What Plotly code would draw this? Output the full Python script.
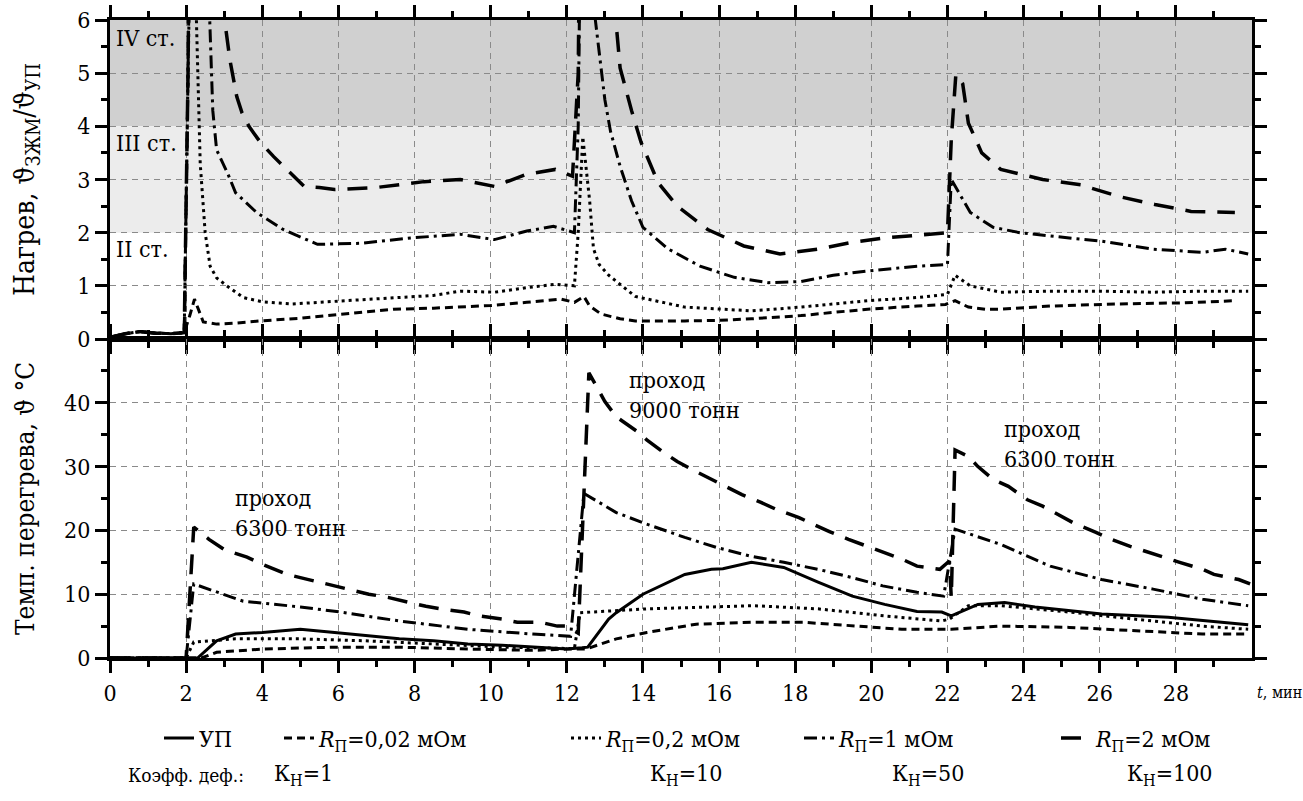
import plotly.graph_objects as go
from plotly.subplots import make_subplots

FONT = "DejaVu Serif Condensed, DejaVu Serif"
FS_TICK = 23
FS_TEXT = 23

# ---------------- top panel: heating ratio ----------------
t_r002 = [0, 0.4, 0.8, 1.2, 1.6, 1.95, 2.1, 2.22, 2.45, 2.8, 3.3, 3.95, 5.0, 5.7, 6.5, 7.45, 8.5, 9.2, 10.0, 10.95, 11.85, 12.2, 12.45, 12.6, 12.9, 13.4, 13.8, 15.1, 16.0, 16.85, 18.15, 19.0, 19.9, 21.2, 21.95, 22.2, 22.55, 23.0, 23.4, 24.7, 26.5, 28.2, 29.55]
v_r002 = [0.03, 0.10, 0.14, 0.11, 0.10, 0.12, 0.45, 0.75, 0.32, 0.28, 0.30, 0.34, 0.39, 0.44, 0.50, 0.56, 0.58, 0.60, 0.63, 0.69, 0.75, 0.69, 0.80, 0.62, 0.47, 0.38, 0.34, 0.34, 0.35, 0.38, 0.44, 0.50, 0.56, 0.62, 0.65, 0.72, 0.60, 0.56, 0.56, 0.62, 0.66, 0.68, 0.72]

t_r02 = [0, 0.4, 0.8, 1.2, 1.6, 1.95, 2.05, 2.15, 2.27, 2.37, 2.5, 2.63, 2.8, 3.07, 3.5, 4.0, 4.8, 6.1, 7.45, 8.5, 9.2, 10.1, 11.0, 11.7, 12.2, 12.3, 12.42, 12.6, 12.7, 12.85, 13.1, 13.8, 15.1, 16.85, 18.15, 19.9, 21.2, 22.0, 22.2, 22.6, 23.4, 24.7, 26.05, 27.4, 28.7, 29.9]
v_r02 = [0.03, 0.10, 0.14, 0.11, 0.10, 0.12, 5.0, 9.0, 6.0, 3.3, 2.0, 1.37, 1.15, 1.0, 0.78, 0.70, 0.66, 0.72, 0.78, 0.82, 0.90, 0.88, 0.97, 1.03, 1.0, 2.0, 3.8, 2.6, 1.7, 1.4, 1.2, 0.8, 0.6, 0.53, 0.6, 0.72, 0.78, 0.84, 1.2, 1.0, 0.88, 0.9, 0.9, 0.88, 0.9, 0.9]

t_r1 = [0, 0.4, 0.8, 1.2, 1.6, 1.95, 2.05, 2.2, 2.62, 2.7, 2.8, 3.1, 3.3, 3.85, 4.55, 5.45, 6.6, 7.9, 9.2, 10.1, 10.95, 11.65, 12.2, 12.3, 12.45, 12.75, 13.0, 13.15, 13.4, 13.7, 14.0, 14.65, 15.5, 16.4, 17.3, 18.15, 19.0, 19.9, 21.2, 22.0, 22.1, 22.6, 23.2, 23.9, 25.2, 26.05, 27.4, 28.7, 29.3, 29.9]
v_r1 = [0.03, 0.10, 0.14, 0.11, 0.10, 0.12, 5.0, 14.0, 6.0, 4.3, 3.56, 3.1, 2.75, 2.38, 2.06, 1.78, 1.8, 1.9, 1.97, 1.87, 2.03, 2.12, 2.0, 4.0, 14.0, 6.0, 4.5, 3.9, 3.25, 2.6, 2.1, 1.7, 1.37, 1.16, 1.06, 1.08, 1.2, 1.28, 1.37, 1.4, 3.0, 2.38, 2.1, 2.0, 1.9, 1.84, 1.69, 1.63, 1.69, 1.6]

t_r2 = [0, 0.4, 0.8, 1.2, 1.6, 1.95, 2.05, 2.2, 3.03, 3.15, 3.33, 3.47, 3.65, 3.95, 4.3, 4.65, 5.1, 5.5, 5.9, 7.0, 8.25, 9.2, 10.1, 10.95, 11.7, 12.15, 12.3, 12.5, 13.3, 13.4, 13.7, 13.95, 14.4, 14.9, 15.7, 16.65, 17.6, 18.6, 19.5, 20.35, 21.5, 22.0, 22.1, 22.22, 22.4, 22.55, 22.9, 23.4, 24.5, 25.5, 26.5, 27.45, 28.4, 29.55]
v_r2 = [0.03, 0.10, 0.14, 0.11, 0.10, 0.12, 5.0, 20.0, 5.9, 5.25, 4.56, 4.25, 4.0, 3.7, 3.43, 3.19, 2.87, 2.85, 2.81, 2.85, 2.96, 3.0, 2.87, 3.1, 3.19, 3.06, 5.0, 20.0, 5.9, 5.1, 4.3, 3.7, 2.94, 2.5, 2.06, 1.75, 1.6, 1.69, 1.82, 1.9, 1.97, 2.0, 3.75, 4.97, 4.8, 4.06, 3.5, 3.19, 3.0, 2.9, 2.68, 2.53, 2.4, 2.38]

# ---------------- bottom panel: overheat temperature ----------------
t_up = [0, 2.3, 2.8, 3.3, 4.0, 5.0, 5.9, 6.75, 7.6, 8.5, 9.4, 10.3, 11.1, 12.0, 12.4, 12.55, 13.1, 13.3, 14.0, 15.1, 15.8, 16.1, 16.85, 17.7, 18.6, 19.5, 20.35, 21.2, 21.85, 22.1, 22.8, 23.5, 24.3, 26.05, 27.8, 29.6, 29.9]
v_up = [0, 0, 2.7, 3.75, 4.0, 4.5, 4.0, 3.5, 3.0, 2.7, 2.2, 2.0, 1.7, 1.4, 1.6, 1.7, 6.1, 7.1, 10.0, 13.1, 13.9, 14.0, 15.0, 14.2, 11.9, 9.7, 8.4, 7.3, 7.2, 6.6, 8.4, 8.7, 8.0, 6.9, 6.4, 5.3, 5.2]

t_002 = [0, 2.4, 2.8, 4.0, 5.9, 7.6, 9.4, 11.1, 12.0, 12.5, 13.3, 14.1, 15.4, 16.85, 18.2, 19.5, 20.8, 22.1, 23.4, 25.2, 26.9, 28.7, 29.9]
v_002 = [0, 0, 0.9, 1.4, 1.7, 1.7, 1.4, 1.2, 1.4, 1.4, 3.0, 4.0, 5.3, 5.6, 5.6, 5.0, 4.5, 4.5, 5.0, 4.8, 4.3, 3.75, 3.75]

t_02 = [0, 2.0, 2.2, 3.3, 5.0, 6.7, 8.5, 10.3, 12.0, 12.2, 12.35, 14.1, 16.9, 18.6, 20.35, 21.85, 22.05, 22.55, 23.4, 25.2, 26.9, 28.7, 29.9]
v_02 = [0, 0, 2.5, 3.0, 3.0, 2.7, 2.2, 1.7, 1.5, 1.5, 7.1, 7.7, 8.2, 7.7, 6.6, 5.8, 6.1, 8.2, 8.2, 7.2, 6.1, 5.0, 4.5]

t_1 = [0, 2.0, 2.2, 2.8, 3.5, 5.0, 6.05, 7.6, 9.4, 11.1, 12.1, 12.45, 13.3, 14.0, 15.1, 15.95, 16.8, 17.7, 18.6, 19.5, 20.3, 21.2, 21.9, 22.2, 23.4, 24.7, 26.05, 27.4, 28.7, 29.9]
v_1 = [0, 0, 11.6, 10.3, 8.9, 8.0, 7.2, 5.8, 4.5, 3.75, 3.4, 25.8, 22.8, 21.2, 18.9, 17.3, 16.0, 15.0, 13.9, 12.6, 11.3, 10.3, 9.7, 20.2, 17.8, 14.4, 12.3, 10.8, 9.2, 8.2]

t_2 = [0, 2.0, 2.2, 2.6, 3.0, 3.6, 4.0, 4.65, 5.0, 5.5, 5.9, 6.4, 6.8, 7.3, 7.7, 8.3, 8.8, 9.3, 9.7, 10.3, 10.7, 11.3, 11.75, 12.0, 12.3, 12.58, 13.0, 13.3, 13.9, 14.1, 14.55, 14.9, 15.4, 15.7, 16.2, 16.6, 17.1, 17.5, 18.1, 18.5, 18.9, 19.4, 19.9, 20.3, 20.8, 21.2, 21.8, 22.05, 22.1, 22.2, 22.55, 22.8, 23.2, 23.6, 24.1, 24.5, 25.0, 25.3, 25.9, 26.3, 26.8, 27.2, 27.7, 28.1, 28.7, 29.0, 29.65, 29.95]
v_2 = [0, 0, 20.5, 18.6, 17.0, 15.8, 14.7, 13.1, 12.6, 11.9, 11.3, 10.5, 10.0, 9.5, 8.9, 8.1, 7.6, 7.2, 6.6, 6.1, 5.6, 5.6, 5.0, 5.0, 3.9, 44.7, 40.2, 37.8, 35.3, 34.2, 32.2, 30.8, 29.2, 28.3, 26.7, 25.6, 24.4, 23.3, 22.0, 20.9, 19.8, 18.6, 17.5, 16.5, 15.5, 14.4, 13.9, 15.2, 9.5, 32.6, 31.6, 30.0, 28.0, 26.9, 24.8, 23.8, 22.2, 21.2, 19.7, 18.6, 17.5, 16.7, 15.8, 15.0, 13.9, 13.1, 12.3, 11.6]

# ---------------- names / labels ----------------
series_names = ["УП", "<i>R</i><sub>П</sub>=0,02 мОм", "<i>R</i><sub>П</sub>=0,2 мОм",
                "<i>R</i><sub>П</sub>=1 мОм", "<i>R</i><sub>П</sub>=2 мОм"]
coef_title = "Коэфф. деф.:"
coef_labels = ["К<sub>Н</sub>=1", "К<sub>Н</sub>=10", "К<sub>Н</sub>=50", "К<sub>Н</sub>=100"]
zone_labels = ["IV ст.", "III ст.", "II ст."]
zone_label_y = [5.66, 3.68, 1.69]
pass_labels = ["проход<br>6300 тонн", "проход<br>9000 тонн", "проход<br>6300 тонн"]
pass_x = [3.24, 13.58, 23.42]
pass_y = [22.7, 41.3, 33.5]
x_ticks = list(range(0, 30, 2))

dashes = ["solid", "8px,5px", "3px,4px", "13px,5px,3px,5px", "20px,12px"]
widths = [3, 3, 3, 3, 3.5]

# layout geometry (body margin removed by post_script, so figure == screen)
W, H = 1303, 801
PLOT_L, PLOT_R, PLOT_T, PLOT_B = 110, 1252, 20, 658
PL, PT, PR, PB = PLOT_L, PLOT_T, W - PLOT_R, H - PLOT_B
PW = PLOT_R - PLOT_L
PH = PLOT_B - PLOT_T
legend_text_px = [200, 320, 607, 840, 1097]
coef_px = [272, 648, 890, 1125]
def px2x(px):
    return (px - PLOT_L) / PW
def py2y(py):
    return (PLOT_B - py) / PH

fig = make_subplots(rows=2, cols=1, shared_xaxes=True, vertical_spacing=0)

top_series = [(t_r002, v_r002), (t_r02, v_r02), (t_r1, v_r1), (t_r2, v_r2)]
for i, (tx, vy) in enumerate(top_series):
    fig.add_trace(go.Scatter(x=tx, y=vy, mode="lines", showlegend=False,
                             line=dict(color="black", width=widths[i + 1], dash=dashes[i + 1])),
                  row=1, col=1)

legend_ids = ["legend", "legend2", "legend3", "legend4", "legend5"]
bot_series = [(t_up, v_up), (t_002, v_002), (t_02, v_02), (t_1, v_1), (t_2, v_2)]
for i, (tx, vy) in enumerate(bot_series):
    fig.add_trace(go.Scatter(x=tx, y=vy, mode="lines", name=series_names[i],
                             legend=legend_ids[i],
                             line=dict(color="black", width=widths[i], dash=dashes[i])),
                  row=2, col=1)

tickfont = dict(family=FONT, size=FS_TICK, color="black")
axis_common = dict(showline=True, linewidth=3, linecolor="black", mirror="allticks",
                   ticks="outside", ticklen=12, tickwidth=3, tickcolor="black",
                   showgrid=True, gridcolor="#8a8a8a", gridwidth=1.3, griddash="6px,5px",
                   zeroline=False, automargin=False, ticklabeloverflow="allow",
                   tickfont=tickfont)

fig.update_xaxes(**axis_common, range=[0, 30], tickvals=x_ticks,
                 minor=dict(ticks="outside", ticklen=6, tickwidth=3, tickcolor="black",
                            tick0=1, dtick=2, showgrid=False))
fig.update_xaxes(showticklabels=False, row=1, col=1)

fig.update_yaxes(**axis_common, row=1, col=1, range=[0, 6], tickvals=[0, 1, 2, 3, 4, 5, 6],
                 minor=dict(ticks="outside", ticklen=6, tickwidth=3, tickcolor="black",
                            tick0=0, dtick=0.5, showgrid=False),
                 title=dict(text="Нагрев, ϑ<sub>ЗЖМ</sub>/ϑ<sub>УП</sub>",
                            font=dict(family=FONT, size=28, color="black"), standoff=35))
fig.update_yaxes(**axis_common, row=2, col=1, range=[0, 50], tickvals=[0, 10, 20, 30, 40, 50],
                 ticktext=["0", "10", "20", "30", "40", ""],
                 minor=dict(ticks="outside", ticklen=6, tickwidth=3, tickcolor="black",
                            tick0=0, dtick=5, showgrid=False),
                 title=dict(text="Темп. перегрева, ϑ °C",
                            font=dict(family=FONT, size=26, color="black"), standoff=22))

# danger zone bands
fig.add_shape(type="rect", xref="x", yref="y", x0=0, x1=30, y0=4, y1=6,
              fillcolor="#d0d0d0", line=dict(width=0), layer="below")
fig.add_shape(type="rect", xref="x", yref="y", x0=0, x1=30, y0=2, y1=4,
              fillcolor="#ececec", line=dict(width=0), layer="below")

txtfont = dict(family=FONT, size=FS_TEXT, color="black")
for txt, yy in zip(zone_labels, zone_label_y):
    fig.add_annotation(x=0.1, y=yy, xref="x", yref="y", text=txt, showarrow=False,
                       xanchor="left", yanchor="middle", font=txtfont)
for txt, xx, yy in zip(pass_labels, pass_x, pass_y):
    fig.add_annotation(x=xx, y=yy, xref="x2", yref="y2", text=txt, showarrow=False,
                       xanchor="left", yanchor="middle", align="left", font=txtfont)

fig.add_annotation(x=px2x(1255), y=py2y(693), xref="paper", yref="paper", text="<i>t</i>, мин",
                   showarrow=False, xanchor="left", yanchor="middle",
                   font=dict(family=FONT, size=16, color="black"))

row2_y = py2y(775)
fig.add_annotation(x=px2x(126), y=row2_y, xref="paper", yref="paper", text=coef_title,
                   showarrow=False, xanchor="left", yanchor="middle",
                   font=dict(family=FONT, size=19, color="black"))
for txt, px in zip(coef_labels, coef_px):
    fig.add_annotation(x=px2x(px), y=row2_y, xref="paper", yref="paper", text=txt,
                       showarrow=False, xanchor="left", yanchor="middle", font=txtfont)

legend_layout = {}
for lid, px in zip(legend_ids, legend_text_px):
    legend_layout[lid] = dict(orientation="h", x=px2x(px - 41), xanchor="left",
                              y=py2y(738), yanchor="middle", font=txtfont,
                              bgcolor="rgba(0,0,0,0)")

fig.update_layout(
    width=W, height=H,
    margin=dict(l=PL, r=PR, t=PT, b=PB, autoexpand=False),
    plot_bgcolor="white", paper_bgcolor="white",
    font=dict(family=FONT, size=FS_TEXT, color="black"),
    **legend_layout,
)
fig.update_yaxes(domain=[0.5, 1.0], row=1, col=1)
fig.update_yaxes(domain=[0.0, 0.5], row=2, col=1)

fig.write_html("out.html", config={"displayModeBar": False},
               post_script="document.body.style.margin='0';document.body.style.overflow='hidden';")
